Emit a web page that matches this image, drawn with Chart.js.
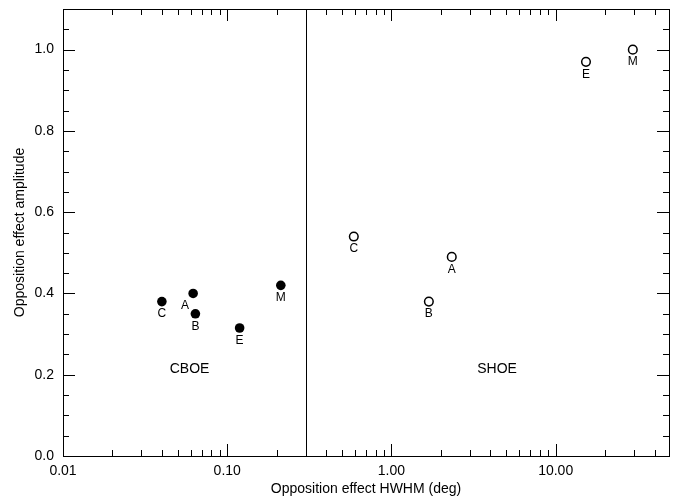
<!DOCTYPE html>
<html>
<head>
<meta charset="utf-8">
<script src="https://cdn.jsdelivr.net/npm/chart.js@4/dist/chart.umd.min.js"></script>
<style>
  body { margin: 0; background: #fff; }
  canvas { display: block; }
</style>
</head>
<body>
<canvas id="oe_chart" width="675" height="498"></canvas>
<script>
// CBOE (filled) and SHOE (open) points
const cboeNames = ["C", "A", "B", "E", "M"];
const cboeHwhm = [0.040, 0.062, 0.064, 0.119, 0.212];
const cboeAmp = [0.38, 0.40, 0.35, 0.315, 0.42];

const shoeNames = ["C", "A", "B", "E", "M"];
const shoeHwhm = [0.59, 2.33, 1.69, 15.3, 29.5];
const shoeAmp = [0.54, 0.49, 0.38, 0.97, 1.0];

const xTicks = [0.01, 0.1, 1, 10];
const xTickLabels = ["0.01", "0.10", "1.00", "10.00"];
const yTicks = [0, 0.2, 0.4, 0.6, 0.8, 1.0];
const yTickLabels = ["0.0", "0.2", "0.4", "0.6", "0.8", "1.0"];

const divider = 0.3;
const regionNames = ["CBOE", "SHOE"];
const regionX = [0.059, 4.4];
const regionY = [0.214, 0.214];

const FONT = "'Liberation Sans', Arial, Helvetica, sans-serif";

function to_points(xs, ys) {
    return xs.map((x, i) => ({ x: x, y: ys[i] }));
}

function crisp(v) {
    return Math.round(v) + 0.5;
}

// IDL-like box with inward ticks on all four sides, plus the divider line
const frame_plugin = {
    id: "frame",
    beforeDatasetsDraw(chart) {
        const { ctx, chartArea: a, scales: { x, y } } = chart;
        ctx.save();
        ctx.strokeStyle = "#000";
        ctx.lineWidth = 1;
        ctx.beginPath();

        const xTick = (v, len) => {
            const px = crisp(x.getPixelForValue(v));
            ctx.moveTo(px, a.bottom); ctx.lineTo(px, a.bottom - len);
            ctx.moveTo(px, a.top); ctx.lineTo(px, a.top + len);
        };
        const yTick = (v, len) => {
            const py = crisp(y.getPixelForValue(v));
            ctx.moveTo(a.left, py); ctx.lineTo(a.left + len, py);
            ctx.moveTo(a.right, py); ctx.lineTo(a.right - len, py);
        };

        for (const d of xTicks) {
            xTick(d, 12);
            for (let k = 2; k <= 9; k++) {
                if (k * d < x.max) xTick(k * d, 6);
            }
        }
        for (let i = 1; i <= 21; i++) {
            const v = i * 0.05;
            if (i % 4 === 0) yTick(v, 12);
            else yTick(v, 6);
        }

        const dx = crisp(x.getPixelForValue(divider));
        ctx.moveTo(dx, a.top); ctx.lineTo(dx, a.bottom);
        ctx.stroke();

        const l = crisp(a.left), t = crisp(a.top);
        ctx.strokeRect(l, t, crisp(a.right) - l, crisp(a.bottom) - t);
        ctx.restore();
    },
    afterDatasetsDraw(chart) {
        const { ctx, scales: { x, y } } = chart;
        ctx.save();
        ctx.fillStyle = "#000";
        ctx.textAlign = "center";
        ctx.textBaseline = "middle";

        ctx.font = "12px " + FONT;
        chart.getDatasetMeta(0).data.forEach((pt, i) => {
            const dx = cboeNames[i] === "A" ? -8 : 0;
            ctx.fillText(cboeNames[i], pt.x + dx, pt.y + 12.5);
        });
        chart.getDatasetMeta(1).data.forEach((pt, i) => {
            ctx.fillText(shoeNames[i], pt.x, pt.y + 12.5);
        });

        ctx.font = "14px " + FONT;
        regionNames.forEach((name, i) => {
            ctx.fillText(name, x.getPixelForValue(regionX[i]), y.getPixelForValue(regionY[i]));
        });
        ctx.restore();
    }
};

function no_label_padding(s) {
    s.paddingTop = 0;
    s.paddingBottom = 0;
    s.paddingLeft = 0;
    s.paddingRight = 0;
}

function plot_opposition_effect(canvasId) {

    const ctx = document.getElementById(canvasId);

    new Chart(ctx, {
        type: "scatter",
        data: {
            datasets: [{
                label: "CBOE",
                data: to_points(cboeHwhm, cboeAmp),
                pointRadius: 4.8,
                pointBackgroundColor: "#000",
                pointBorderColor: "#000",
                pointBorderWidth: 0
            }, {
                label: "SHOE",
                data: to_points(shoeHwhm, shoeAmp),
                pointRadius: 4.3,
                pointBackgroundColor: "#fff",
                pointBorderColor: "#000",
                pointBorderWidth: 1.5
            }]
        },
        options: {
            responsive: false,
            animation: false,
            layout: { padding: { top: 9, right: 6, left: 0, bottom: 0 } },
            plugins: {
                legend: { display: false },
                tooltip: { enabled: false }
            },
            scales: {
                x: {
                    type: "logarithmic",
                    min: 0.01,
                    max: 49,
                    grid: { display: false, drawTicks: false },
                    border: { display: false },
                    afterBuildTicks: (s) => { s.ticks = xTicks.map(v => ({ value: v })); },
                    afterFit: (s) => { s.height = 42; no_label_padding(s); },
                    ticks: {
                        callback: (v, i) => xTickLabels[i],
                        color: "#000",
                        font: { family: FONT, size: 14 },
                        padding: 7,
                        maxRotation: 0,
                        autoSkip: false
                    },
                    title: {
                        display: true,
                        text: "Opposition effect HWHM (deg)",
                        color: "#000",
                        font: { family: FONT, size: 14 },
                        padding: { top: 0, bottom: 0 }
                    }
                },
                y: {
                    min: 0,
                    max: 1.1,
                    grid: { display: false, drawTicks: false },
                    border: { display: false },
                    afterBuildTicks: (s) => { s.ticks = yTicks.map(v => ({ value: v })); },
                    afterFit: (s) => { s.width = 63; no_label_padding(s); },
                    ticks: {
                        callback: (v, i) => yTickLabels[i],
                        color: "#000",
                        font: { family: FONT, size: 14 },
                        padding: 9
                    },
                    title: {
                        display: true,
                        text: "Opposition effect amplitude",
                        color: "#000",
                        font: { family: FONT, size: 14 },
                        padding: { top: 12, bottom: 0 }
                    }
                }
            }
        },
        plugins: [frame_plugin]
    });
}

plot_opposition_effect("oe_chart");
</script>
</body>
</html>
